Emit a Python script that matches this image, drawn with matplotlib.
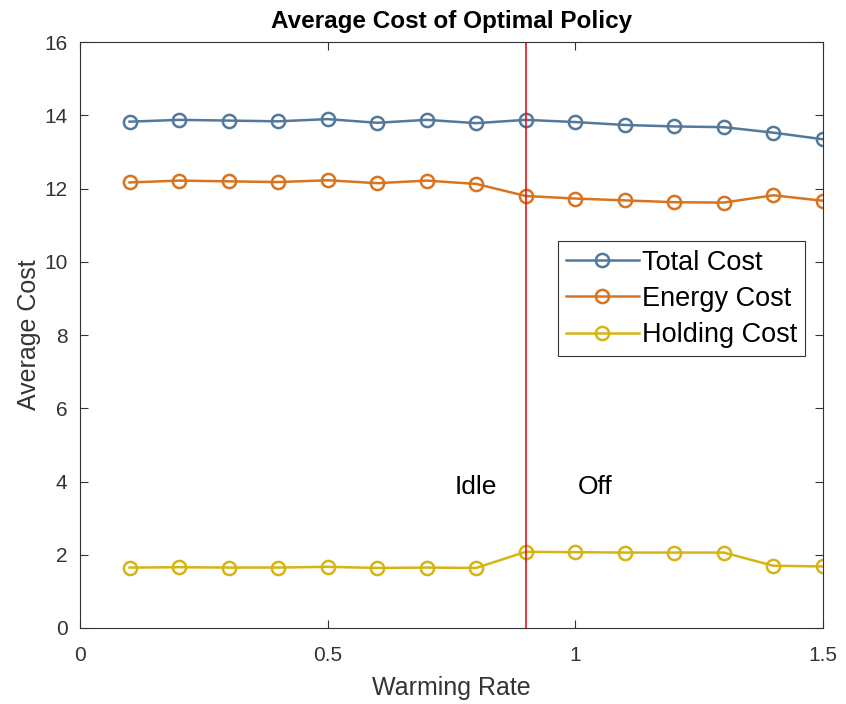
import matplotlib.pyplot as plt
import numpy as np

plt.rcParams['font.family'] = ['Liberation Sans', 'DejaVu Sans']

warming_rate = [0.1, 0.2, 0.3, 0.4, 0.5, 0.6, 0.7, 0.8, 0.9, 1.0, 1.1, 1.2, 1.3, 1.4, 1.5]
total_cost = [13.83, 13.88, 13.86, 13.84, 13.90, 13.80, 13.88, 13.79, 13.88, 13.82, 13.74, 13.70, 13.68, 13.53, 13.35]
energy_cost = [12.17, 12.22, 12.20, 12.18, 12.23, 12.15, 12.22, 12.13, 11.80, 11.73, 11.68, 11.63, 11.62, 11.82, 11.67]
holding_cost = [1.65, 1.66, 1.65, 1.65, 1.67, 1.64, 1.65, 1.64, 2.08, 2.07, 2.06, 2.06, 2.06, 1.70, 1.68]
threshold = 0.9

series = [
    ("Total Cost", total_cost, "#52799b"),
    ("Energy Cost", energy_cost, "#d8731f"),
    ("Holding Cost", holding_cost, "#d6b412"),
]
txt_col = "#333333"

fig = plt.figure(figsize=(8.46, 7.04), dpi=100)
ax = fig.add_axes([0.0946, 0.108, 0.878, 0.832])

for name, vals, color in series:
    ax.plot(warming_rate, vals, "-o", color=color, lw=1.8, ms=9.5, mew=1.8,
            mfc="none", label=name)

ax.axvline(threshold, color="#e8141c", lw=1.2)
ax.text(0.8, 3.85, "Idle", ha="center", va="center", fontsize=19)
ax.text(1.04, 3.85, "Off", ha="center", va="center", fontsize=19)

ax.set_xlim(0, 1.5)
ax.set_ylim(0, 16)
ax.set_xticks([0, 0.5, 1, 1.5])
ax.set_xticklabels(["0", "0.5", "1", "1.5"])
ax.set_yticks(range(0, 17, 2))
ax.tick_params(direction="in", top=True, right=True, labelsize=15,
               colors=txt_col, length=6, width=0.8)
ax.tick_params(axis="x", pad=13)
ax.tick_params(axis="y", pad=9)
for s in ax.spines.values():
    s.set_color(txt_col)
    s.set_linewidth(0.8)

ax.set_xlabel("Warming Rate", fontsize=18, color=txt_col, labelpad=8)
ax.set_ylabel("Average Cost", fontsize=18, color=txt_col, labelpad=2)
ax.set_title("Average Cost of Optimal Policy", fontsize=17.5, fontweight="bold", pad=10)

leg = ax.legend(loc="upper right", bbox_to_anchor=(0.976, 0.66), fontsize=19.5,
                fancybox=False, framealpha=1, edgecolor=txt_col,
                handlelength=2.7, borderpad=0.3, labelspacing=0.38, handletextpad=0.1,
                borderaxespad=0)
leg.get_frame().set_linewidth(0.8)

fig.savefig("out.png", dpi=100)
